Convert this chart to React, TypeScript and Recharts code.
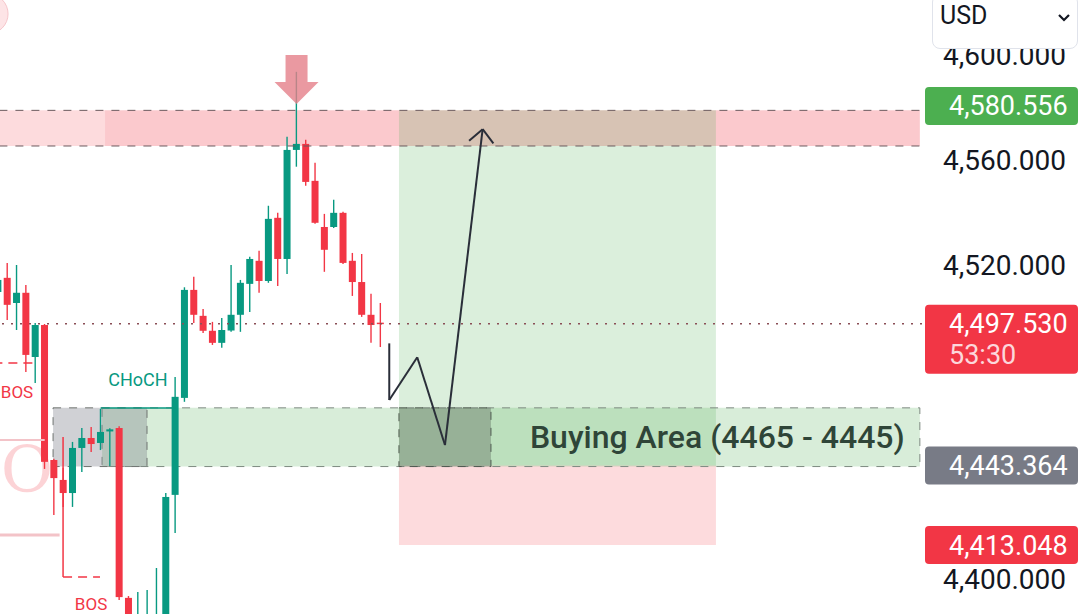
import React from 'react';
import {
  ComposedChart,
  Bar,
  XAxis,
  YAxis,
  ReferenceArea,
  ReferenceLine,
  ReferenceDot,
} from 'recharts';

const GREEN = '#089981';
const RED = '#f23645';
const FONT = 'Roboto, "Noto Sans", sans-serif';

// candles, one per slot (slot 0 is cut by the left edge)
const opens = [
  4509.6, 4515.0, 4505.4, 4509.3, 4484.8, 4497.0, 4445.5, 4437.9, 4432.9, 4450.1,
  4453.9, 4452.0, 4456.4, 4457.7, 4392.9, 4366.0, 4374.0, 4377.0, 4380.0, 4432.2,
  4469.2, 4510.4, 4500.5, 4494.8, 4490.2, 4494.9, 4500.9, 4512.7, 4521.5, 4513.8,
  4537.9, 4522.2, 4563.8, 4566.1, 4552.0, 4534.4, 4534.4, 4539.8, 4521.5, 4513.4,
  4500.9, 4497.9,
];
const highs = [
  4516.5, 4520.7, 4519.9, 4512.3, 4497.8, 4497.4, 4446.0, 4442.5, 4452.4, 4457.7,
  4458.1, 4465.0, 4457.6, 4458.4, 4393.6, 4395.1, 4395.9, 4404.3, 4432.9, 4477.2,
  4511.4, 4515.4, 4503.1, 4498.2, 4499.7, 4519.9, 4514.2, 4523.0, 4525.3, 4542.5,
  4539.8, 4568.8, 4593.6, 4567.7, 4558.9, 4539.4, 4544.8, 4540.2, 4524.5, 4524.1,
  4508.9, 4505.4,
];
const lows = [
  4506.0, 4498.9, 4495.1, 4479.1, 4474.9, 4442.1, 4424.5, 4427.6, 4427.6, 4440.9,
  4448.6, 4449.3, 4443.2, 4392.1, 4368.0, 4360.0, 4368.0, 4371.0, 4376.0, 4417.7,
  4467.7, 4497.8, 4494.0, 4489.4, 4488.3, 4494.4, 4494.4, 4502.0, 4509.3, 4513.1,
  4511.9, 4516.5, 4557.4, 4550.1, 4535.6, 4517.3, 4534.0, 4520.3, 4508.1, 4500.1,
  4490.2, 4488.6,
];
const closes = [
  4514.2, 4504.7, 4509.3, 4485.6, 4497.0, 4444.8, 4438.6, 4432.9, 4450.1, 4453.9,
  4451.6, 4456.2, 4457.2, 4393.2, 4374.0, 4381.0, 4383.0, 4384.0, 4431.4, 4469.6,
  4510.4, 4500.9, 4494.8, 4490.2, 4495.1, 4500.9, 4513.1, 4522.2, 4513.8, 4537.5,
  4522.2, 4563.8, 4566.1, 4551.6, 4536.0, 4525.7, 4539.8, 4520.7, 4513.4, 4500.9,
  4497.0, 4497.53,
];

// 4,440 and 4,480 sit under the price tags
const yTicks = [4400, 4520, 4560, 4600];

// levels
const sellZone = [4565.3, 4578.9];
const buyZone = [4443.0, 4465.4];
const targetPrice = 4578.9;
const entryPrice = 4443.364;
const stopPrice = 4413.048;
const lastPrice = 4497.53;

const priceTags = [
  { value: 4580.556, text: '4,580.556', sub: '', color: '#4caf50' },
  { value: 4497.53, text: '4,497.530', sub: '53:30', color: RED },
  { value: 4443.364, text: '4,443.364', sub: '', color: '#787b86' },
  { value: 4413.048, text: '4,413.048', sub: '', color: RED },
];

// hand drawn path (slot, price)
const pathX = [41.94, 41.94, 44.94, 47.91, 51.95];
const pathY = [4490.0, 4468.4, 4484.7, 4451.2, 4571.7];

const data = opens.map((o, i) => ({
  i,
  o,
  h: highs[i],
  l: lows[i],
  c: closes[i],
  range: [lows[i], highs[i]],
}));

const X_MIN = 0.21;
const X_MAX = 99.05;
const Y_MIN = 4386.75;
const Y_MAX = 4621.0;

const Candle = (props: any) => {
  const { x, y, width, height, payload } = props;
  if (!payload) return null;
  const { o, h, l, c } = payload;
  const top = Math.min(y, y + height);
  const hh = Math.abs(height);
  const k = hh / (h - l);
  const color = c >= o ? GREEN : RED;
  const mid = x + width / 2;
  const bTop = top + (h - Math.max(o, c)) * k;
  const bBot = top + (h - Math.min(o, c)) * k;
  return (
    <g>
      <line x1={mid} x2={mid} y1={top} y2={top + hh} stroke={color} strokeWidth={1.4} />
      <rect x={x} y={bTop} width={width} height={Math.max(1.5, bBot - bTop)} fill={color} />
    </g>
  );
};

const fmt = (v: number) =>
  v.toLocaleString('en-US', { minimumFractionDigits: 3, maximumFractionDigits: 3 });

const textShape =
  (text: string, color: string, size: number, anchor: string, weight = 400, family = FONT, opacity = 1) =>
  (p: any) =>
    (
      <text
        x={p.cx}
        y={p.cy}
        dy="0.35em"
        textAnchor={anchor}
        fontSize={size}
        fontFamily={family}
        fontWeight={weight}
        fill={color}
        fillOpacity={opacity}
      >
        {text}
      </text>
    );

const tagShape = (t: (typeof priceTags)[number]) => (p: any) => (
  <g>
    <rect x={p.cx + 3} y={p.cy - 19} width={153} height={t.sub ? 69 : 38} rx={4} fill={t.color} />
    <text x={p.cx + 27} y={p.cy} dy="0.35em" fontSize={27} fontFamily={FONT} fill="#fff">
      {t.text}
    </text>
    {t.sub && (
      <text x={p.cx + 27} y={p.cy + 31} dy="0.35em" fontSize={27} fontFamily={FONT} fill="#fcd7db">
        {t.sub}
      </text>
    )}
  </g>
);

const downArrow = (p: any) => {
  const { cx, cy } = p;
  const pts = [
    [cx - 11, cy - 25],
    [cx + 11, cy - 25],
    [cx + 11, cy + 2],
    [cx + 22, cy + 2],
    [cx, cy + 24],
    [cx - 22, cy + 2],
    [cx - 11, cy + 2],
  ]
    .map((q) => q.join(','))
    .join(' ');
  return <polygon points={pts} fill="#e57f8a" fillOpacity={0.8} />;
};

export default function App() {
  return (
    <div
      style={{
        position: 'absolute',
        left: 0,
        top: 0,
        width: 1090,
        height: 614,
        background: '#fff',
        overflow: 'hidden',
      }}
    >
      <ComposedChart width={1090} height={614} data={data} margin={{ top: 0, right: 0, bottom: 0, left: 0 }}>
        <XAxis dataKey="i" type="number" domain={[X_MIN, X_MAX]} allowDataOverflow hide />
        <YAxis
          orientation="right"
          width={168}
          type="number"
          domain={[Y_MIN, Y_MAX]}
          allowDataOverflow
          ticks={yTicks}
          tickFormatter={fmt}
          axisLine={false}
          tickLine={false}
          tickMargin={15}
          tick={{ fontSize: 28, fill: '#131722', fontFamily: FONT }}
        />

        {/* sell zone */}
        <ReferenceArea x1={-5} x2={11.47} y1={sellZone[0]} y2={sellZone[1]} fill={RED} fillOpacity={0.18} ifOverflow="hidden" />
        <ReferenceArea
          x1={11.47}
          x2={98.82}
          y1={sellZone[0]}
          y2={sellZone[1]}
          fill={RED}
          fillOpacity={0.27}
          ifOverflow="hidden"
        />
        <ReferenceLine segment={[{ x: -5, y: sellZone[1] }, { x: 98.82, y: sellZone[1] }]} stroke="#6b5a5e" strokeDasharray="8 8" ifOverflow="hidden" />
        <ReferenceLine segment={[{ x: -5, y: sellZone[0] }, { x: 98.82, y: sellZone[0] }]} stroke="#6b5a5e" strokeDasharray="8 8" ifOverflow="hidden" />

        {/* long position */}
        <ReferenceArea x1={42.98} x2={76.96} y1={entryPrice} y2={targetPrice} fill="#4caf50" fillOpacity={0.2} ifOverflow="visible" />
        <ReferenceArea x1={42.98} x2={76.96} y1={stopPrice} y2={entryPrice} fill={RED} fillOpacity={0.18} ifOverflow="visible" />

        {/* buying area */}
        <ReferenceArea
          x1={11.15}
          x2={98.82}
          y1={buyZone[0]}
          y2={buyZone[1]}
          fill="#4caf50"
          fillOpacity={0.22}
          stroke="#7d8a80"
          strokeDasharray="8 8"
          ifOverflow="visible"
        />
        <ReferenceArea
          x1={5.9}
          x2={15.97}
          y1={buyZone[0]}
          y2={buyZone[1]}
          fill="#787b86"
          fillOpacity={0.35}
          stroke="#6f7370"
          strokeDasharray="8 8"
          ifOverflow="visible"
        />
        <ReferenceArea
          x1={42.98}
          x2={52.84}
          y1={buyZone[0]}
          y2={buyZone[1]}
          fill="#5f6b5f"
          fillOpacity={0.4}
          stroke="#4f5a50"
          strokeDasharray="8 8"
          ifOverflow="visible"
        />

        {/* faint marks on the left */}
        <ReferenceLine segment={[{ x: -1, y: 4453.1 }, { x: 5, y: 4453.1 }]} stroke="#f3c3c8" strokeWidth={2} ifOverflow="hidden" />
        <ReferenceLine segment={[{ x: -1, y: 4416.9 }, { x: 6.6, y: 4416.9 }]} stroke="#f3c3c8" strokeWidth={3} ifOverflow="hidden" />
        <ReferenceDot x={0.3} y={4442} r={0} ifOverflow="visible" shape={textShape('O', RED, 64, 'start', 400, 'DejaVu Serif, serif', 0.22)} />
        <ReferenceDot x={-1.07} y={4615.7} r={20} fill="#fde4e6" stroke="#f6c6cb" ifOverflow="visible" />

        <ReferenceLine y={lastPrice} stroke="#8a4e56" strokeDasharray="2 7" strokeWidth={1.5} />

        <Bar dataKey="range" barSize={7} shape={Candle} isAnimationActive={false} />

        {/* structure labels */}
        <ReferenceLine segment={[{ x: -0.5, y: 4482.5 }, { x: 3.75, y: 4482.5 }]} stroke={RED} strokeDasharray="9 6" strokeWidth={1.5} ifOverflow="hidden" />
        <ReferenceDot x={0.3} y={4471.6} r={0} ifOverflow="visible" shape={textShape('BOS', RED, 17, 'start')} />
        <ReferenceLine segment={[{ x: 6.97, y: 4454.3 }, { x: 6.97, y: 4400.9 }]} stroke={RED} strokeWidth={1.5} ifOverflow="visible" />
        <ReferenceLine segment={[{ x: 6.97, y: 4400.9 }, { x: 10.93, y: 4400.9 }]} stroke={RED} strokeDasharray="9 6" strokeWidth={1.5} ifOverflow="visible" />
        <ReferenceDot x={9.97} y={4390.4} r={0} ifOverflow="visible" shape={textShape('BOS', RED, 17, 'middle')} />
        <ReferenceLine segment={[{ x: 11, y: 4465.3 }, { x: 19, y: 4465.3 }]} stroke={GREEN} strokeWidth={1.5} ifOverflow="visible" />
        <ReferenceDot x={15} y={4476} r={0} ifOverflow="visible" shape={textShape('CHoCH', GREEN, 18, 'middle')} />

        {/* projected path */}
        {pathX.slice(1).map((x, k) => (
          <ReferenceLine
            key={`p${k}`}
            segment={[{ x: pathX[k], y: pathY[k] }, { x, y: pathY[k + 1] }]}
            stroke="#2a2e39"
            strokeWidth={2}
            ifOverflow="visible"
          />
        ))}
        <ReferenceLine segment={[{ x: 50.5, y: 4567.3 }, { x: 51.95, y: 4571.7 }]} stroke="#2a2e39" strokeWidth={2} ifOverflow="visible" />
        <ReferenceLine segment={[{ x: 53.1, y: 4566.3 }, { x: 51.95, y: 4571.7 }]} stroke="#2a2e39" strokeWidth={2} ifOverflow="visible" />

        <ReferenceDot x={32} y={4590.5} r={0} ifOverflow="visible" shape={downArrow} />
        <ReferenceDot
          x={97.2}
          y={4454.2}
          r={0}
          ifOverflow="visible"
          shape={textShape('Buying Area (4465 - 4445)', '#2f4538', 32, 'end', 500)}
        />

        {priceTags.map((t) => (
          <ReferenceDot key={t.text} x={X_MAX} y={t.value} r={0} ifOverflow="visible" shape={tagShape(t)} />
        ))}
      </ComposedChart>

      <div
        style={{
          position: 'absolute',
          left: 932,
          top: -6,
          width: 146,
          height: 55,
          background: '#fff',
          border: '1px solid #e0e3eb',
          borderRadius: 8,
          fontFamily: FONT,
          fontSize: 25,
          color: '#131722',
          boxSizing: 'border-box',
        }}
      >
        <span style={{ position: 'absolute', left: 7, top: 6 }}>USD</span>
        <svg width={14} height={10} style={{ position: 'absolute', left: 124, top: 18 }}>
          <polyline points="2,2 7,7 12,2" fill="none" stroke="#131722" strokeWidth={2.2} />
        </svg>
      </div>
    </div>
  );
}
